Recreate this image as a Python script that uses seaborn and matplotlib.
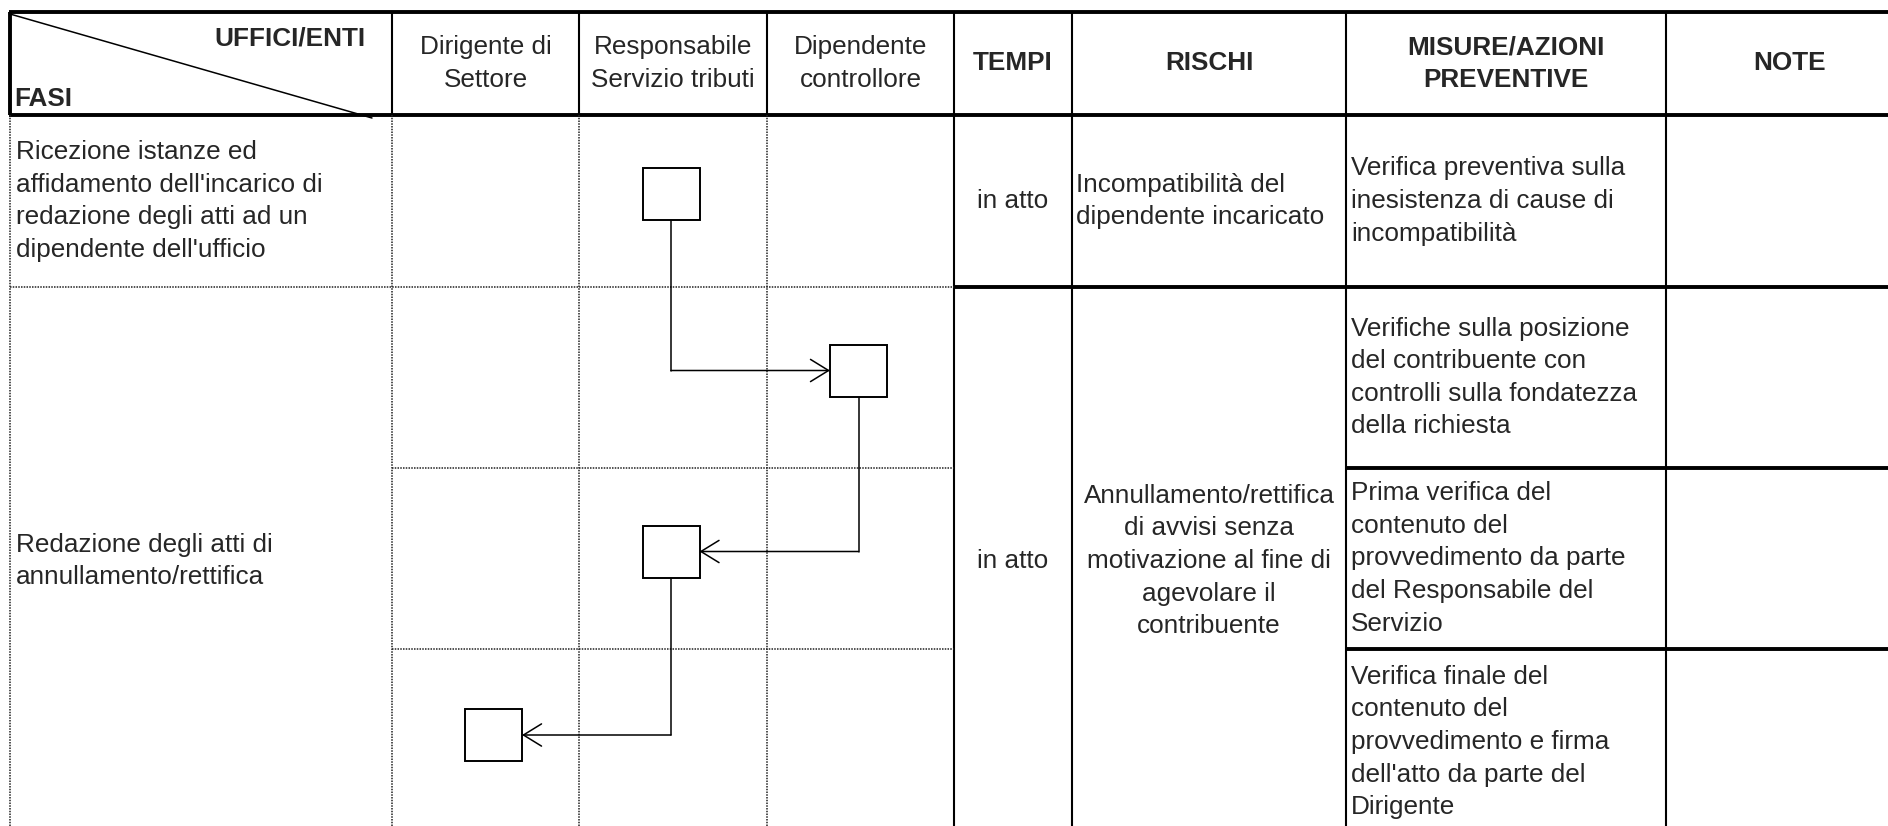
import matplotlib
matplotlib.use("Agg")
import matplotlib.pyplot as plt
import seaborn as sns
from matplotlib.patches import Rectangle

# === DATA ===
corner_top = "UFFICI/ENTI"
corner_bottom = "FASI"
office_headers = ["Dirigente di\nSettore", "Responsabile\nServizio tributi", "Dipendente\ncontrollore"]
info_headers = ["TEMPI", "RISCHI", "MISURE/AZIONI\nPREVENTIVE", "NOTE"]

phases = [
    "Ricezione istanze ed\naffidamento dell'incarico di\nredazione degli atti ad un\ndipendente dell'ufficio",
    "Redazione degli atti di\nannullamento/rettifica",
]
tempi = ["in atto", "in atto"]
rischi = [
    "Incompatibilità del\ndipendente incaricato",
    "Annullamento/rettifica\ndi avvisi senza\nmotivazione al fine di\nagevolare il\ncontribuente",
]
misure = [
    "Verifica preventiva sulla\ninesistenza di cause di\nincompatibilità",
    "Verifiche sulla posizione\ndel contribuente con\ncontrolli sulla fondatezza\ndella richiesta",
    "Prima verifica del\ncontenuto del\nprovvedimento da parte\ndel Responsabile del\nServizio",
    "Verifica finale del\ncontenuto del\nprovvedimento e firma\ndell'atto da parte del\nDirigente",
]
# flow: office column index for each step (one step per sub-row)
flow_office = [1, 2, 1, 0]

# === LAYOUT (pixels) ===
W, H = 1888, 826
col_x = [10, 392, 579, 767, 954, 1072, 1346, 1666, 1914]
y_top, y_head = 12, 115
sub_y = [115, 287, 468, 649, 835]
phase_rows = [(0, 1), (1, 4)]  # sub-row spans per phase
box_w, box_h = 57, 52
box_dx = [-2, -2, -2, 8]
FS = 18.8
LS = 1.45

sns.set_theme(style="white")
plt.rcParams["font.family"] = ["Liberation Sans", "DejaVu Sans"]

fig = plt.figure(figsize=(W / 100, H / 100), dpi=100)
ax = fig.add_axes([0, 0, 1, 1])
ax.set_xlim(0, W)
ax.set_ylim(H, 0)
ax.axis("off")

thick = dict(color="black", lw=2.8, solid_capstyle="butt")
solid = dict(color="black", lw=1.5, solid_capstyle="butt")
dotted = dict(color="#222222", lw=1.1, linestyle=(0, (1, 0.8)))

# --- grid ---
ax.plot([col_x[0] - 1, W], [y_top, y_top], **thick)
ax.plot([col_x[0] - 1, W], [y_head, y_head], **thick)
ax.plot([col_x[0], col_x[0]], [y_top, y_head], **thick)
for x in col_x[1:-1]:
    ax.plot([x, x], [y_top, y_head], **solid)
for x in col_x[:4]:
    ax.plot([x, x], [y_head, sub_y[-1]], **dotted)
for x in col_x[4:-1]:
    ax.plot([x, x], [y_head, sub_y[-1]], **solid)
# row lines
ax.plot([col_x[0], col_x[4]], [sub_y[1], sub_y[1]], **dotted)
ax.plot([col_x[4], W], [sub_y[1], sub_y[1]], **thick)
for y in sub_y[2:4]:
    ax.plot([col_x[1], col_x[4]], [y, y], **dotted)
    ax.plot([col_x[6], W], [y, y], **thick)

# corner header
ax.plot([col_x[0], 372], [y_top + 2, y_head + 3], color="black", lw=1.1)
ax.text(366, 38, corner_top, ha="right", va="center", fontsize=FS, fontweight="bold")
ax.text(14, 99, corner_bottom, ha="left", va="center", fontsize=FS, fontweight="bold")

head_mid = (y_top + y_head) / 2
for i, lab in enumerate(office_headers):
    ax.text((col_x[i + 1] + col_x[i + 2]) / 2, head_mid, lab, ha="center", va="center",
            fontsize=FS, linespacing=LS)
for i, lab in enumerate(info_headers):
    ax.text((col_x[i + 4] + col_x[i + 5]) / 2, head_mid, lab, ha="center", va="center",
            fontsize=FS, fontweight="bold", linespacing=LS)

# --- body text ---
for p, (a, b) in enumerate(phase_rows):
    ymid = (sub_y[a] + sub_y[b]) / 2
    ax.text(col_x[0] + 6, ymid, phases[p], ha="left", va="center", fontsize=FS, linespacing=LS)
    ax.text((col_x[4] + col_x[5]) / 2, ymid, tempi[p], ha="center", va="center", fontsize=FS)
    if p == 0:
        ax.text(col_x[5] + 4, ymid, rischi[p], ha="left", va="center", fontsize=FS, linespacing=LS)
    else:
        ax.text((col_x[5] + col_x[6]) / 2, ymid, rischi[p], ha="center", va="center",
                fontsize=FS, linespacing=LS)

for r, txt in enumerate(misure):
    ymid = (sub_y[r] + sub_y[r + 1]) / 2
    ax.text(col_x[6] + 5, ymid, txt, ha="left", va="center", fontsize=FS, linespacing=LS)

# --- flow boxes and connectors ---
centers = []
for r, c in enumerate(flow_office):
    cx = (col_x[c + 1] + col_x[c + 2]) / 2 + box_dx[r]
    cy = (sub_y[r] + sub_y[r + 1]) / 2 - 7
    centers.append((cx, cy))
    ax.add_patch(Rectangle((cx - box_w / 2, cy - box_h / 2), box_w, box_h,
                           facecolor="white", edgecolor="black", lw=1.4, zorder=3))

for (x0, y0), (x1, y1) in zip(centers[:-1], centers[1:]):
    ax.plot([x0, x0], [y0 + box_h / 2, y1], color="black", lw=1.1, zorder=2)
    end_x = x1 - box_w / 2 if x1 > x0 else x1 + box_w / 2
    ax.annotate("", xy=(end_x, y1), xytext=(x0, y1),
                arrowprops=dict(arrowstyle="->, head_length=0.65, head_width=0.4",
                                color="black", lw=1.1, shrinkA=0, shrinkB=0,
                                mutation_scale=20), zorder=2)

fig.savefig("out.png", dpi=100, facecolor="white")
